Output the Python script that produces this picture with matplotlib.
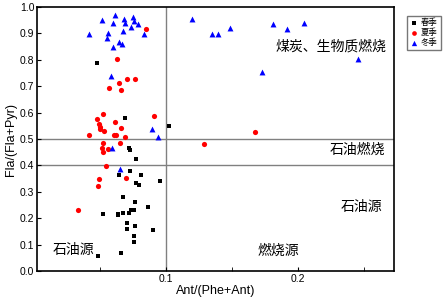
import matplotlib
matplotlib.use("Agg")
import matplotlib.pyplot as plt

plt.rcParams['font.family'] = ['Liberation Sans', 'Noto Sans CJK SC', 'DejaVu Sans']

# 春季
spring_x = [0.0478, 0.0689, 0.1020, 0.0721, 0.0729, 0.0772, 0.0643, 0.0727, 0.0808, 0.0774,
            0.0797, 0.0954, 0.0671, 0.0765, 0.0861, 0.0524, 0.0633, 0.0633, 0.0676, 0.0721,
            0.0734, 0.0755, 0.0705, 0.0705, 0.0762, 0.0755, 0.0760, 0.0904, 0.0486, 0.0658]
spring_y = [0.789, 0.578, 0.548, 0.467, 0.458, 0.424, 0.365, 0.379, 0.364, 0.332,
            0.327, 0.340, 0.281, 0.261, 0.241, 0.215, 0.217, 0.211, 0.221, 0.220,
            0.232, 0.232, 0.183, 0.160, 0.169, 0.133, 0.110, 0.155, 0.057, 0.067]

# 夏季
summer_x = [0.0629, 0.0705, 0.0762, 0.0645, 0.0570, 0.0660, 0.0848, 0.0522, 0.0476, 0.0494,
            0.0499, 0.0501, 0.0615, 0.0660, 0.0527, 0.0418, 0.0605, 0.0618, 0.0691, 0.0524,
            0.0653, 0.0516, 0.0557, 0.0522, 0.0909, 0.0547, 0.0491, 0.0486, 0.0696, 0.0330,
            0.1678, 0.1289]
summer_y = [0.803, 0.728, 0.728, 0.714, 0.694, 0.685, 0.916, 0.594, 0.575, 0.556,
            0.547, 0.537, 0.566, 0.541, 0.530, 0.515, 0.514, 0.516, 0.509, 0.486,
            0.486, 0.467, 0.463, 0.450, 0.588, 0.398, 0.350, 0.321, 0.352, 0.232,
            0.527, 0.482]

# 冬季
winter_x = [0.0415, 0.0514, 0.0556, 0.0550, 0.0598, 0.0610, 0.0600, 0.0645, 0.0664, 0.0674,
            0.0679, 0.0685, 0.0733, 0.0748, 0.0755, 0.0790, 0.0833, 0.0580, 0.0890, 0.0940,
            0.0592, 0.0653, 0.1195, 0.1347, 0.1397, 0.1488, 0.1815, 0.1916, 0.2050, 0.2460,
            0.1731]
winter_y = [0.896, 0.949, 0.902, 0.881, 0.941, 0.969, 0.847, 0.869, 0.861, 0.908,
            0.953, 0.941, 0.923, 0.961, 0.948, 0.934, 0.899, 0.739, 0.537, 0.509,
            0.467, 0.388, 0.955, 0.897, 0.897, 0.920, 0.934, 0.918, 0.938, 0.802,
            0.754]

fig = plt.figure(figsize=(4.46, 3.01), dpi=100)
ax = fig.add_axes([0.083, 0.0997, 0.800, 0.877])

# 分区线
ax.axvline(0.1, color='#808080', lw=1, zorder=1)
ax.axhline(0.5, color='#808080', lw=1, zorder=1)
ax.axhline(0.4, color='#808080', lw=1, zorder=1)

ax.scatter(spring_x, spring_y, marker='s', s=9, color='black', lw=0, label='春季', zorder=3)
ax.scatter(summer_x, summer_y, marker='o', s=14, color='red', lw=0, label='夏季', zorder=3)
ax.scatter(winter_x, winter_y, marker='^', s=18, color='blue', lw=0, label='冬季', zorder=3)

ax.set_xlim(0.002, 0.273)
ax.set_ylim(0, 1.0)
ax.set_xticks([0.1, 0.2])
ax.set_xticks([0.05, 0.15, 0.25], minor=True)
ax.set_xticklabels(['0.1', '0.2'])
ax.set_yticks([i / 10 for i in range(11)])
ax.set_yticklabels(['%.1f' % (i / 10) for i in range(11)])
ax.tick_params(which='both', direction='in', length=3, labelsize=7.5, pad=2)
for sp in ax.spines.values():
    sp.set_linewidth(1.2)

ax.set_xlabel('Ant/(Phe+Ant)', fontsize=9, labelpad=1)
ax.set_ylabel('Fla/(Fla+Pyr)', fontsize=9, labelpad=2)

ax.text(0.2676, 0.850, '煤炭、生物质燃烧', fontsize=10, ha='right', va='center')
ax.text(0.2663, 0.458, '石油燃烧', fontsize=10, ha='right', va='center')
ax.text(0.264, 0.241, '石油源', fontsize=10, ha='right', va='center')
ax.text(0.0137, 0.080, '石油源', fontsize=10, ha='left', va='center')
ax.text(0.1693, 0.076, '燃烧源', fontsize=10, ha='left', va='center')

fig.legend(loc='upper left', bbox_to_anchor=(0.903, 0.962), fontsize=6,
           frameon=True, fancybox=False, edgecolor='#555555', handlelength=0.8,
           handletextpad=0.5, borderpad=0.4, labelspacing=0.15, markerscale=0.9)

fig.savefig('out.png', dpi=100)
